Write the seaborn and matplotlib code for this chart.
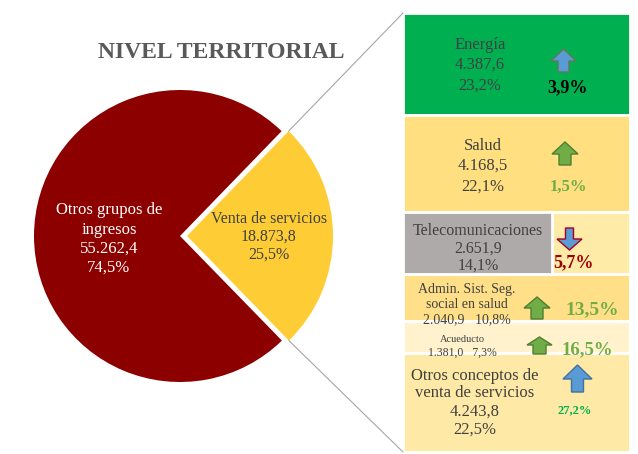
import matplotlib
matplotlib.use('Agg')
import matplotlib.pyplot as plt
import seaborn as sns
import numpy as np

# data
pie_labels = ['Venta de servicios', 'Otros grupos de\ningresos']
pie_values = [18873.8, 55262.4]
pie_shares = [25.5, 74.5]
pie_colors = ['#FECD35', '#8C0000']

rows = ['Energía', 'Salud', 'Telecomunicaciones', 'Admin. Sist. Seg.\nsocial en salud',
        'Acueducto', 'Otros conceptos de\nventa de servicios']
row_values = [4387.6, 4168.5, 2651.9, 2040.9, 1381.0, 4243.8]
row_shares = [23.2, 22.1, 14.1, 10.8, 7.3, 22.5]
row_growth = [3.9, 1.5, -5.7, 13.5, 16.5, 27.2]
row_colors = ['#00B050', '#FFDF7F', '#FFEBA8', '#FFE089', '#FFF2CC', '#FFE9A6']

sns.set_theme(style='white')
plt.rcParams['font.family'] = ['Liberation Serif', 'DejaVu Serif']

TXT = '#404040'
GREEN = '#70AD47'
BLUE = '#5B9BD5'


def es_num(v):
    s = f"{v:,.1f}"
    return s.replace(',', 'X').replace('.', ',').replace('X', '.')


def es_pct(v):
    return f"{v:.1f}%".replace('.', ',')


def put_lines(ax, x, ys, lines, size, color=TXT, weight='normal'):
    for y, line in zip(ys, lines):
        ax.text(x, y, line, ha='center', va='center', fontsize=size,
                color=color, fontweight=weight)


def block_arrow(ax, xc, ytop, ybot, w, sw, head, up, face, edge):
    # simple block arrow polygon, pixel coords (y down)
    if up:
        yh = ytop + head
        pts = [(xc, ytop), (xc + w / 2, yh), (xc + sw / 2, yh), (xc + sw / 2, ybot),
               (xc - sw / 2, ybot), (xc - sw / 2, yh), (xc - w / 2, yh)]
    else:
        yh = ybot - head
        pts = [(xc, ybot), (xc + w / 2, yh), (xc + sw / 2, yh), (xc + sw / 2, ytop),
               (xc - sw / 2, ytop), (xc - sw / 2, yh), (xc - w / 2, yh)]
    ax.add_patch(plt.Polygon(pts, closed=True, facecolor=face, edgecolor=edge, lw=1.0))


fig = plt.figure(figsize=(6.38, 4.54), dpi=100)

# main axes in pixel coordinates (y down)
ax = fig.add_axes([0, 0, 1, 1])
wedges, _ = ax.pie(pie_values, colors=pie_colors, startangle=-pie_shares[0] * 1.8,
                   center=(180, 236), radius=146, explode=[7, 0],
                   wedgeprops=dict(linewidth=0))
ax.set_xlim(0, 638)
ax.set_ylim(454, 0)
ax.set_aspect('auto')
ax.axis('off')

ax.text(221, 53, 'NIVEL TERRITORIAL', ha='center', va='center', fontsize=17,
        fontweight='bold', color='#595959')

# pie labels
put_lines(ax, 109, [210, 230, 249, 268],
          pie_labels[1].split('\n') + [es_num(pie_values[1]), es_pct(pie_shares[1])],
          12, color='white')
put_lines(ax, 269, [219, 237, 255],
          [pie_labels[0], es_num(pie_values[0]), es_pct(pie_shares[0])], 11.5)

# connector lines from exploded slice to the bar
yw = wedges[0]
cx, cy = yw.center
bar_left, bar_top, bar_bot = 403, 13, 452
p1 = (cx + yw.r * np.cos(np.radians(yw.theta1)), cy + yw.r * np.sin(np.radians(yw.theta1)))
p2 = (cx + yw.r * np.cos(np.radians(yw.theta2)), cy + yw.r * np.sin(np.radians(yw.theta2)))
top_pt, bot_pt = sorted([p1, p2], key=lambda p: p[1])
ax.plot([top_pt[0], bar_left], [top_pt[1], bar_top], color='#A6A6A6', lw=0.8)
ax.plot([bot_pt[0], bar_left], [bot_pt[1], bar_bot], color='#A6A6A6', lw=0.8)

# stacked bar panel
axb = fig.add_axes([403 / 638, (454 - 452) / 454, 227 / 638, 439 / 454])
bottoms = np.concatenate([[0], np.cumsum(row_shares)[:-1]])
for h, b, c in zip(row_shares, bottoms, row_colors):
    sns.barplot(x=[0], y=[h], bottom=b, color=c, width=1, ax=axb,
                edgecolor='white', linewidth=2, saturation=1)
# grey highlight box for telecom
axb.bar(-0.5, row_shares[2], bottom=bottoms[2], width=149 / 227, align='edge',
        color='#AEAAAA', edgecolor='white', linewidth=2)
axb.set_xlim(-0.5, 0.5)
axb.set_ylim(100, 0)
axb.axis('off')

# row texts (on pixel axes, drawn over the bars)
ax.set_zorder(2)
ax.patch.set_visible(False)

put_lines(ax, 480, [45, 65, 86], [rows[0], es_num(row_values[0]), es_pct(row_shares[0])], 12)
ax.text(568, 88, es_pct(abs(row_growth[0])), ha='center', va='center', fontsize=13,
        fontweight='bold', color='black')
block_arrow(ax, 563.5, 49, 72, 25, 11, 12, True, BLUE, '#5E7A55')

put_lines(ax, 483, [146, 166, 187], [rows[1], es_num(row_values[1]), es_pct(row_shares[1])], 12)
ax.text(568, 187, es_pct(abs(row_growth[1])), ha='center', va='center', fontsize=12,
        fontweight='bold', color=GREEN)
block_arrow(ax, 565, 142, 165, 26, 12, 12, True, GREEN, '#507E32')

put_lines(ax, 478, [231, 249, 266], [rows[2], es_num(row_values[2]), es_pct(row_shares[2])], 11.5)
ax.text(573, 263, es_pct(abs(row_growth[2])), ha='center', va='center', fontsize=13,
        fontweight='bold', color='#9C0006')
block_arrow(ax, 569.5, 228, 250, 25, 8, 11, False, BLUE, '#A50021')

put_lines(ax, 467, [289, 305, 320],
          rows[3].split('\n') + [es_num(row_values[3]) + '   ' + es_pct(row_shares[3])], 10)
ax.text(592, 310, es_pct(row_growth[3]), ha='center', va='center', fontsize=14,
        fontweight='bold', color=GREEN)
block_arrow(ax, 537, 297, 319, 26, 12, 11, True, GREEN, '#507E32')

put_lines(ax, 462, [339], [rows[4]], 7.5)
put_lines(ax, 462, [353], [es_num(row_values[4]) + '   ' + es_pct(row_shares[4])], 8.5)
ax.text(587, 350, es_pct(row_growth[4]), ha='center', va='center', fontsize=13.5,
        fontweight='bold', color=GREEN)
block_arrow(ax, 539.5, 337, 354, 25, 13, 8, True, GREEN, '#507E32')

put_lines(ax, 475, [376, 393, 412, 430],
          rows[5].split('\n') + [es_num(row_values[5]), es_pct(row_shares[5])], 12)
ax.text(575, 410, es_pct(row_growth[5]), ha='center', va='center', fontsize=9,
        fontweight='bold', color='#00B050')
block_arrow(ax, 577.5, 365, 392, 29, 12, 14, True, BLUE, '#41719C')

fig.savefig('out.png', dpi=100)
